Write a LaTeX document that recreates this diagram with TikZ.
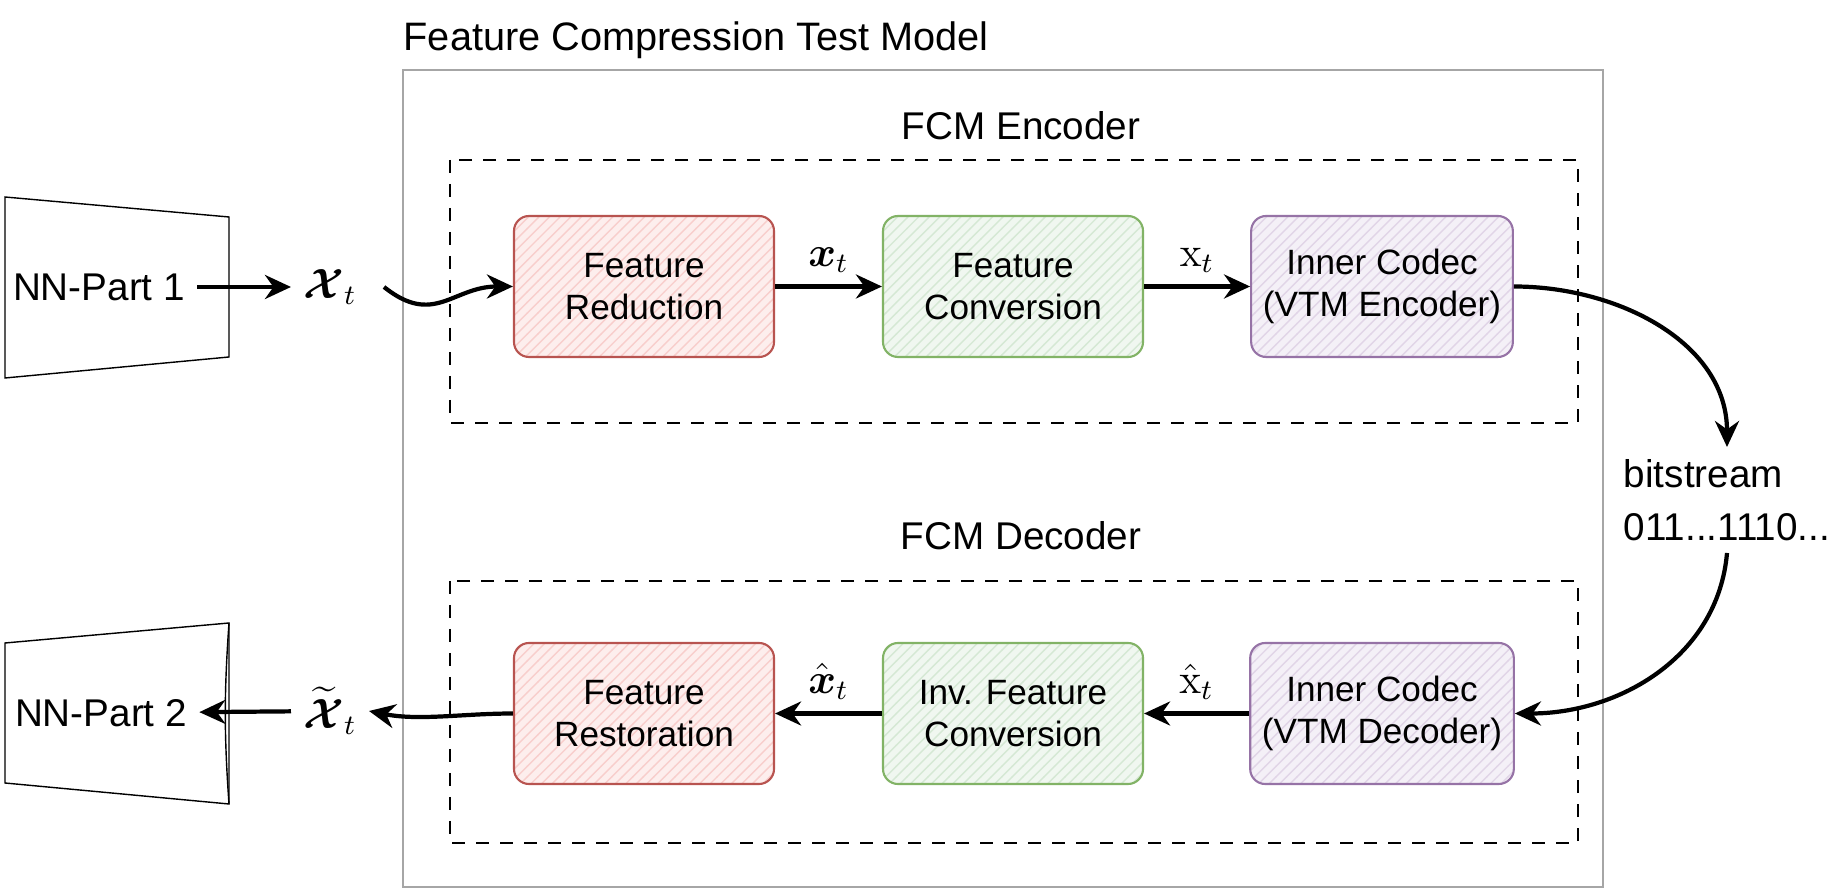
\documentclass[tikz,border=0pt]{standalone}
\usepackage[no-math]{fontspec}
\setmainfont{Liberation Sans}
\usepackage{amsmath}
\usetikzlibrary{arrows.meta,patterns}
\definecolor{redline}{HTML}{B85450}
\definecolor{redfill}{HTML}{F8CECC}
\definecolor{greenline}{HTML}{82B366}
\definecolor{greenfill}{HTML}{D5E8D4}
\definecolor{purpleline}{HTML}{9673A6}
\definecolor{purplefill}{HTML}{E1D5E7}
\newcommand{\bigX}{\boldsymbol{\mathcal{X}}}

\begin{document}
\begin{tikzpicture}[node distance=3.69cm, auto, >={Stealth[length=2.6mm,width=2.4mm]},
    every node/.style={font=\fontsize{11}{15}\selectfont},
    stage/.style={rectangle, rounded corners=1.5mm, minimum width=2.6cm, minimum height=1.41cm,
        align=center, line width=0.6pt, font=\fontsize{10}{12}\selectfont},
    redstage/.style={stage, draw=redline, preaction={fill=redfill!35}, pattern=north east lines, pattern color=redfill},
    greenstage/.style={stage, draw=greenline, preaction={fill=greenfill!35}, pattern=north east lines, pattern color=greenfill},
    purplestage/.style={stage, draw=purpleline, preaction={fill=purplefill!35}, pattern=north east lines, pattern color=purplefill},
    flow/.style={->, line width=1.2pt},
    mathlabel/.style={font=\fontsize{12}{14}\selectfont},
    group/.style={draw, dash pattern=on 1.3mm off 1.1mm, line width=0.5pt}]
    \useasboundingbox (0,0) rectangle (18.42,-8.93);

    % frames
    \node (title) [anchor=west, inner sep=0pt, font=\fontsize{11.3}{14}\selectfont] at (4.03,-0.40) {Feature Compression Test Model};
    \draw[gray!70, line width=0.8pt] (4.03,-0.70) rectangle (16.03,-8.87);
    \draw[group] (4.50,-1.60) rectangle (15.78,-4.23);
    \node (enclabel) at (10.21,-1.26) {FCM Encoder};
    \draw[group] (4.50,-5.81) rectangle (15.78,-8.43);
    \node (declabel) at (10.21,-5.36) {FCM Decoder};

    % stages
    \node[redstage] (FR) at (6.44,-2.865) {Feature\\Reduction};
    \node[greenstage] (FC) [right of=FR] {Feature\\Conversion};
    \node[purplestage] (ICe) [right of=FC] {Inner Codec\\(VTM Encoder)};
    \node[redstage] (FRs) [below of=FR, node distance=4.27cm] {Feature\\Restoration};
    \node[greenstage] (IFC) [right of=FRs] {Inv. Feature\\Conversion};
    \node[purplestage] (ICd) [right of=IFC] {Inner Codec\\(VTM Decoder)};

    % network parts
    \node (nn1) at (0.99,-2.87) {NN-Part 1};
    \draw (0.05,-1.97) -- (2.29,-2.17) -- (2.29,-3.57) -- (0.05,-3.78) -- cycle;
    \node (nn2) at (1.01,-7.13) {NN-Part 2};
    \draw (0.05,-6.43) -- (2.29,-6.23) -- (2.29,-8.04) -- (0.05,-7.83) -- cycle;
    \draw (2.29,-6.23) to[bend right=4] (2.29,-8.04);

    \node[mathlabel] (X) at (3.30,-2.87) {$\bigX_t$};
    \node[mathlabel] (Xt) at (3.30,-7.11) {$\widetilde{\bigX}_t$};
    \node (bits) [align=left] at (17.27,-5.0) {bitstream\\011...1110...};

    % encoder path
    \draw[flow] (nn1) -- (X);
    \draw[flow] ([xshift=1.5mm]X.east) .. controls +(0.5,-0.4) and +(-0.6,0) .. (FR.west);
    \draw[flow] (FR) -- node[mathlabel] {$\boldsymbol{x}_t$} (FC);
    \draw[flow] (FC) -- node[mathlabel] {$\mathrm{x}_t$} (ICe);
    \draw[flow] (ICe.east) to[out=0, in=90] (bits.north);

    % decoder path
    \draw[flow] (bits.south) to[out=-95, in=0] (ICd.east);
    \draw[flow] (ICd) -- node[mathlabel, swap] {$\hat{\mathrm{x}}_t$} (IFC);
    \draw[flow] (IFC) -- node[mathlabel, swap] {$\hat{\boldsymbol{x}}_t$} (FRs);
    \draw[flow] (FRs.west) .. controls +(-0.5,0) and +(0.5,-0.1) .. (Xt.east);
    \draw[flow] (Xt) -- (nn2);
\end{tikzpicture}
\end{document}
